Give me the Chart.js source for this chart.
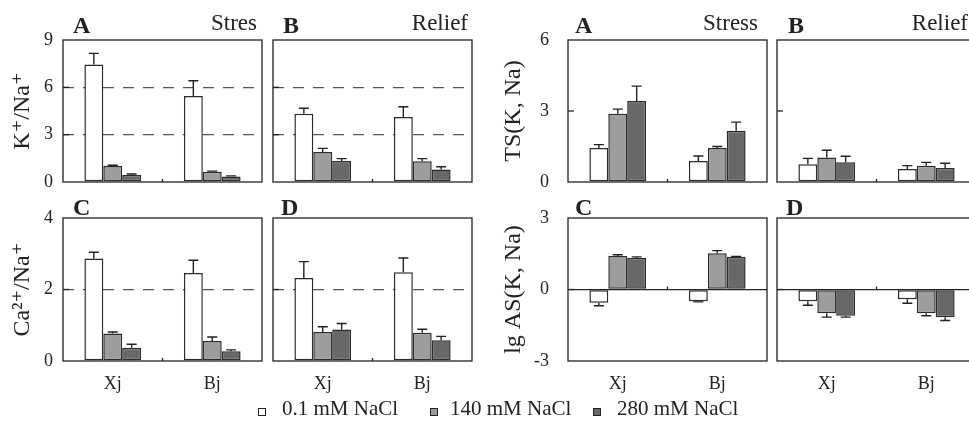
<!DOCTYPE html>
<html>
<head>
<meta charset="utf-8">
<script src="https://cdn.jsdelivr.net/npm/chart.js@4.4.0/dist/chart.umd.min.js"></script>
<style>
    html, body { margin: 0; padding: 0; background: #fff; width: 969px; height: 430px; overflow: hidden; position: relative; }
    canvas { position: absolute; }
    .txt { position: absolute; font-family: 'Liberation Serif', 'Times New Roman', serif; line-height: 1; white-space: nowrap; color: #222; }
    .letter { font-weight: bold; font-size: 24px; }
    .cond { font-size: 23px; }
    .key { font-size: 21px; }
    .sw { position: absolute; width: 6px; height: 6px; border: 1px solid #222; }
</style>
</head>
<body>
<canvas id="kStress"></canvas>
<canvas id="kRelief"></canvas>
<canvas id="caStress"></canvas>
<canvas id="caRelief"></canvas>
<canvas id="tsStress"></canvas>
<canvas id="tsRelief"></canvas>
<canvas id="asStress"></canvas>
<canvas id="asRelief"></canvas>

<div class="txt letter" style="left:73px;top:13px">A</div>
<div class="txt cond" style="right:712px;top:11px">Stres</div>
<div class="txt letter" style="left:283px;top:13px">B</div>
<div class="txt cond" style="right:501px;top:11px">Relief</div>
<div class="txt letter" style="left:575px;top:13px">A</div>
<div class="txt cond" style="right:211px;top:11px">Stress</div>
<div class="txt letter" style="left:788px;top:13px">B</div>
<div class="txt cond" style="right:1px;top:11px">Relief</div>
<div class="txt letter" style="left:73px;top:195px">C</div>
<div class="txt letter" style="left:281px;top:195px">D</div>
<div class="txt letter" style="left:575px;top:195px">C</div>
<div class="txt letter" style="left:786px;top:195px">D</div>

<div id="legend"></div>

<script>
// Categorías y series
const categories = ['Xj', 'Bj'];
const seriesNames = ['0.1 mM NaCl', '140 mM NaCl', '280 mM NaCl'];
const seriesColors = ['#ffffff', '#9c9c9c', '#686868'];

// Valores: una fila por nivel de NaCl, una columna por cultivar
const kNaStress = [[7.45, 5.45], [1.02, 0.65], [0.44, 0.35]];
const kNaStressErr = [[0.70, 0.97], [0.04, 0.04], [0.07, 0.04]];
const kNaRelief = [[4.33, 4.12], [1.90, 1.31], [1.33, 0.80]];
const kNaReliefErr = [[0.34, 0.65], [0.23, 0.17], [0.15, 0.17]];

const caNaStress = [[2.87, 2.46], [0.77, 0.56], [0.37, 0.27]];
const caNaStressErr = [[0.17, 0.36], [0.04, 0.11], [0.10, 0.04]];
const caNaRelief = [[2.32, 2.48], [0.81, 0.79], [0.88, 0.58]];
const caNaReliefErr = [[0.46, 0.40], [0.15, 0.10], [0.17, 0.11]];

const tsStress = [[1.44, 0.89], [2.88, 1.44], [3.42, 2.17]];
const tsStressErr = [[0.14, 0.21], [0.20, 0.06], [0.63, 0.36]];
const tsRelief = [[0.75, 0.55], [1.04, 0.69], [0.83, 0.59]];
const tsReliefErr = [[0.25, 0.14], [0.30, 0.14], [0.26, 0.20]];

const asStress = [[-0.56, -0.49], [1.41, 1.52], [1.32, 1.37]];
const asStressErr = [[0.12, 0.03], [0.05, 0.11], [0.05, 0.02]];
const asRelief = [[-0.49, -0.41], [-1.00, -1.00], [-1.10, -1.16]];
const asReliefErr = [[0.17, 0.17], [0.16, 0.10], [0.06, 0.14]];

// Marcas de los ejes
const kNaTicks = [0, 3, 6, 9];
const caNaTicks = [0, 2, 4];
const tsTicks = [0, 3, 6];
const asTicks = [-3, 0, 3];
const kNaDashed = [3, 6];
const caNaDashed = [2];
const asZero = [0];

const FONT = "'Liberation Serif', 'DejaVu Serif', 'Times New Roman', serif";
const INK = '#222';

// Paneles (posición en la página)
const panels = [
    { id: 'kStress', left: 0, top: 28, yW: 63, ext: 'top', data: kNaStress, err: kNaStressErr, ticks: kNaTicks, lines: kNaDashed, dashed: true, title: 'K⁺/Na⁺', titlePad: 8, tickPad: 10 },
    { id: 'kRelief', left: 267, top: 28, yW: 6, ext: 'top', data: kNaRelief, err: kNaReliefErr, ticks: kNaTicks, lines: kNaDashed, dashed: true },
    { id: 'caStress', left: 0, top: 206, yW: 63, ext: 'bottom', data: caNaStress, err: caNaStressErr, ticks: caNaTicks, lines: caNaDashed, dashed: true, title: 'Ca²⁺/Na⁺', titlePad: 8, tickPad: 10 },
    { id: 'caRelief', left: 267, top: 206, yW: 6, ext: 'bottom', data: caNaRelief, err: caNaReliefErr, ticks: caNaTicks, lines: caNaDashed, dashed: true },
    { id: 'tsStress', left: 490, top: 28, yW: 78, ext: 'top', data: tsStress, err: tsStressErr, ticks: tsTicks, lines: [], dashed: false, title: 'TS(K, Na)', titlePad: 9, tickPad: 19 },
    { id: 'tsRelief', left: 771, top: 28, yW: 6, ext: 'top', data: tsRelief, err: tsReliefErr, ticks: tsTicks, lines: [], dashed: false },
    { id: 'asStress', left: 490, top: 206, yW: 78, ext: 'bottom', data: asStress, err: asStressErr, ticks: asTicks, lines: asZero, dashed: false, title: 'lg AS(K, Na)', titlePad: 9, tickPad: 19 },
    { id: 'asRelief', left: 771, top: 206, yW: 6, ext: 'bottom', data: asRelief, err: asReliefErr, ticks: asTicks, lines: asZero, dashed: false }
];

// Barras de error y marco del panel
const panelDecor = {
    id: 'panelDecor',
    afterDatasetsDraw(chart) {
        const p = chart.options.plugins.panelDecor.panel;
        const ctx = chart.ctx;
        const xs = chart.scales.x;
        const ys = chart.scales.y;
        const area = chart.chartArea;
        ctx.save();
        ctx.strokeStyle = INK;
        ctx.lineWidth = 1.4;
        p.data.forEach((row, i) => {
            const meta = chart.getDatasetMeta(i);
            meta.data.forEach((bar, j) => {
                const v = row[j];
                const e = p.err[i][j];
                const y0 = ys.getPixelForValue(v);
                const y1 = ys.getPixelForValue(v + Math.sign(v) * e);
                ctx.beginPath();
                ctx.moveTo(bar.x, y0);
                ctx.lineTo(bar.x, y1);
                ctx.moveTo(bar.x - 5, y1);
                ctx.lineTo(bar.x + 5, y1);
                ctx.stroke();
            });
        });
        // marco
        ctx.lineWidth = 1.3;
        ctx.strokeRect(area.left, area.top, area.right - area.left, area.bottom - area.top);
        // marcas interiores del eje y
        p.ticks.slice(1, -1).forEach(v => {
            const y = ys.getPixelForValue(v);
            ctx.beginPath();
            ctx.moveTo(area.left, y);
            ctx.lineTo(area.left + 6, y);
            ctx.stroke();
        });
        // marca entre categorías
        const mx = (xs.getPixelForValue(0) + xs.getPixelForValue(1)) / 2;
        const my = ys.getPixelForValue(0);
        ctx.beginPath();
        ctx.moveTo(mx, my);
        ctx.lineTo(mx, my - 3);
        ctx.stroke();
        ctx.restore();
    }
};

const AREA_W = 199;

panels.forEach(p => {
    const canvas = document.getElementById(p.id);
    const areaH = p.ext === 'top' ? 142 : 143;
    const xH = p.ext === 'top' ? 14 : 40;
    const padTop = 12;
    const padRight = 4;
    canvas.width = p.yW + AREA_W + padRight;
    canvas.height = padTop + areaH + xH;
    canvas.style.left = p.left + 'px';
    canvas.style.top = p.top + 'px';
    canvas.style.width = canvas.width + 'px';
    canvas.style.height = canvas.height + 'px';

    new Chart(canvas.getContext('2d'), {
        type: 'bar',
        data: {
            labels: categories,
            datasets: seriesNames.map((name, i) => ({
                label: name,
                data: p.data[i],
                backgroundColor: seriesColors[i],
                borderColor: '#2b2b2b',
                borderWidth: 1.5,
                borderSkipped: false,
                categoryPercentage: 0.57,
                barPercentage: 1.0
            }))
        },
        options: {
            responsive: false,
            animation: false,
            devicePixelRatio: 1,
            layout: { padding: { top: padTop, right: padRight, left: 0, bottom: 0 } },
            scales: {
                x: {
                    grid: { display: false, drawTicks: false },
                    border: { display: false },
                    ticks: {
                        display: p.ext === 'bottom',
                        padding: 12,
                        color: INK,
                        font: { family: FONT, size: 18 }
                    },
                    afterFit: scale => {
                        scale.height = xH;
                        scale.paddingLeft = 0;
                        scale.paddingRight = 0;
                    }
                },
                y: {
                    min: p.ticks[0],
                    max: p.ticks[p.ticks.length - 1],
                    afterBuildTicks: scale => { scale.ticks = p.ticks.map(v => ({ value: v })); },
                    grid: {
                        drawTicks: false,
                        lineWidth: 1.3,
                        color: c => p.lines.includes(c.tick.value) ? (p.dashed ? '#555' : INK) : 'rgba(0,0,0,0)'
                    },
                    border: { display: false, dash: p.dashed ? [11, 9] : [] },
                    ticks: {
                        display: !!p.title,
                        padding: p.tickPad || 0,
                        color: INK,
                        font: { family: FONT, size: 18 }
                    },
                    title: {
                        display: !!p.title,
                        text: p.title || '',
                        color: INK,
                        padding: { top: p.titlePad || 0, bottom: 0 },
                        font: { family: FONT, size: 24 }
                    },
                    afterFit: scale => {
                        scale.width = p.yW;
                        scale.paddingTop = 0;
                        scale.paddingBottom = 0;
                    }
                }
            },
            plugins: {
                legend: { display: false },
                tooltip: { enabled: false },
                panelDecor: { panel: p }
            }
        },
        plugins: [panelDecor]
    });
});

// Leyenda común
const legendPos = [
    { sw: 258, text: 282 },
    { sw: 430, text: 450 },
    { sw: 593, text: 617 }
];
const legend = document.getElementById('legend');
seriesNames.forEach((name, i) => {
    const sw = document.createElement('div');
    sw.className = 'sw';
    sw.style.left = legendPos[i].sw + 'px';
    sw.style.top = '408px';
    sw.style.background = seriesColors[i];
    legend.appendChild(sw);
    const t = document.createElement('div');
    t.className = 'txt key';
    t.style.left = legendPos[i].text + 'px';
    t.style.top = '398px';
    t.textContent = name;
    legend.appendChild(t);
});
</script>
</body>
</html>
